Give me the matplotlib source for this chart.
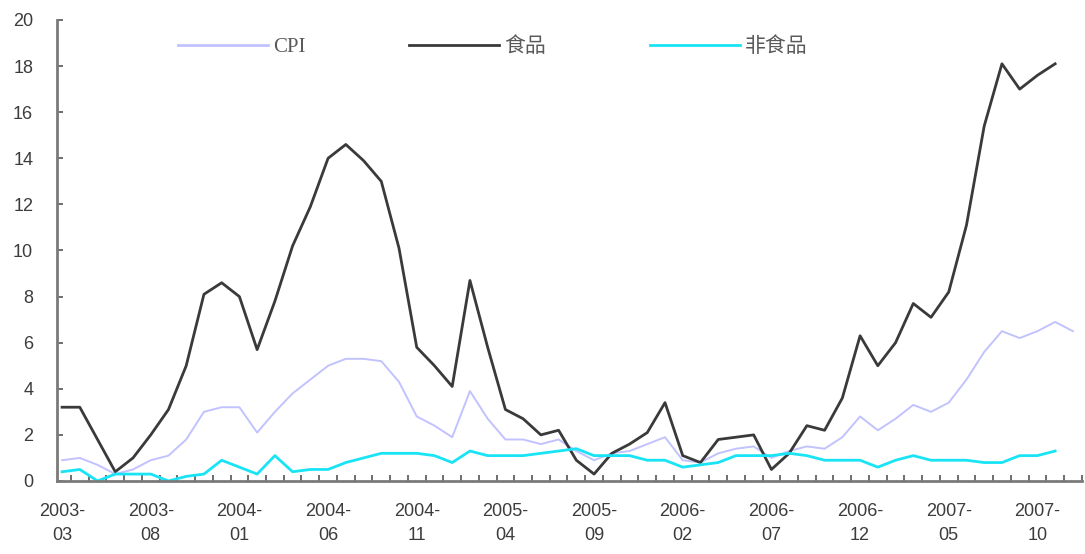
import matplotlib
matplotlib.use("Agg")
import matplotlib.pyplot as plt
import numpy as np
import pandas as pd

# monthly year-on-year inflation, %
months = pd.period_range("2003-03", "2007-12", freq="M")
cpi = [0.9, 1.0, 0.7, 0.3, 0.5, 0.9, 1.1, 1.8, 3.0, 3.2,
       3.2, 2.1, 3.0, 3.8, 4.4, 5.0, 5.3, 5.3, 5.2, 4.3, 2.8, 2.4,
       1.9, 3.9, 2.7, 1.8, 1.8, 1.6, 1.8, 1.3, 0.9, 1.2, 1.3, 1.6,
       1.9, 0.9, 0.8, 1.2, 1.4, 1.5, 1.0, 1.3, 1.5, 1.4, 1.9, 2.8,
       2.2, 2.7, 3.3, 3.0, 3.4, 4.4, 5.6, 6.5, 6.2, 6.5, 6.9, 6.5]
food = [3.2, 3.2, 1.8, 0.4, 1.0, 2.0, 3.1, 5.0, 8.1, 8.6,
        8.0, 5.7, 7.8, 10.2, 11.9, 14.0, 14.6, 13.9, 13.0, 10.1, 5.8, 5.0,
        4.1, 8.7, 5.8, 3.1, 2.7, 2.0, 2.2, 0.9, 0.3, 1.2, 1.6, 2.1,
        3.4, 1.1, 0.8, 1.8, 1.9, 2.0, 0.5, 1.2, 2.4, 2.2, 3.6, 6.3,
        5.0, 6.0, 7.7, 7.1, 8.2, 11.1, 15.4, 18.1, 17.0, 17.6, 18.1]
nonfood = [0.4, 0.5, 0.0, 0.3, 0.3, 0.3, 0.0, 0.2, 0.3, 0.9,
           0.6, 0.3, 1.1, 0.4, 0.5, 0.5, 0.8, 1.0, 1.2, 1.2, 1.2, 1.1,
           0.8, 1.3, 1.1, 1.1, 1.1, 1.2, 1.3, 1.4, 1.1, 1.1, 1.1, 0.9,
           0.9, 0.6, 0.7, 0.8, 1.1, 1.1, 1.1, 1.2, 1.1, 0.9, 0.9, 0.9,
           0.6, 0.9, 1.1, 0.9, 0.9, 0.9, 0.8, 0.8, 1.1, 1.1, 1.3]
tick_step = 5

plt.rcParams["font.family"] = ["Liberation Sans", "Noto Sans CJK SC"]

x_cpi = np.arange(len(cpi))
x_food = np.arange(len(food))
x_nonfood = np.arange(len(nonfood))

fig = plt.figure(figsize=(10.85, 5.54), dpi=100)
ax = fig.add_axes([0.0523, 0.1318, 0.9447, 0.8321])

l1, = ax.plot(x_cpi, cpi, color="#c2c2ff", lw=1.4, label="CPI")
l2, = ax.plot(x_food, food, color="#3a3a3a", lw=2.0, label="食品")
l3, = ax.plot(x_nonfood, nonfood, color="#19e4f5", lw=2.0, label="非食品")

ax.set_xlim(-0.3, len(cpi) - 0.7)
ax.set_ylim(0, 20)
ax.set_yticks(np.arange(0, 21, 2))

labels = [f"{p.year}-\n{p.month:02d}" for p in months]
ax.set_xticks(x_cpi[::tick_step])
ax.set_xticklabels(labels[::tick_step])
ax.set_xticks(np.arange(len(cpi)) + 0.5, minor=True)
ax.tick_params(axis="x", which="major", length=0, pad=16,
               labelsize=13, labelcolor="#3c3c3c")
ax.tick_params(axis="x", which="minor", direction="in", length=4,
               width=1.2, color="#555555")
ax.tick_params(axis="y", direction="in", length=4, width=1.2,
               color="#555555", pad=17, labelsize=13, labelcolor="#3c3c3c")
for lab in ax.get_xticklabels():
    lab.set_linespacing(1.55)

for side in ("top", "right"):
    ax.spines[side].set_visible(False)
for side in ("left", "bottom"):
    ax.spines[side].set_color("#7a7a7a")
    ax.spines[side].set_linewidth(2)

leg = ax.legend(handles=[l1, l2, l3], ncol=3, frameon=False,
                loc="center left", bbox_to_anchor=(0.100, 0.941),
                handlelength=4.3, handletextpad=0.25, columnspacing=5.0,
                prop={"family": ["Liberation Serif", "Noto Sans CJK SC"],
                      "size": 15})
for txt in leg.get_texts():
    txt.set_color("#5a5a5a")
for h in leg.get_lines():
    h.set_linewidth(2.0)

fig.savefig("out.png", dpi=100)
